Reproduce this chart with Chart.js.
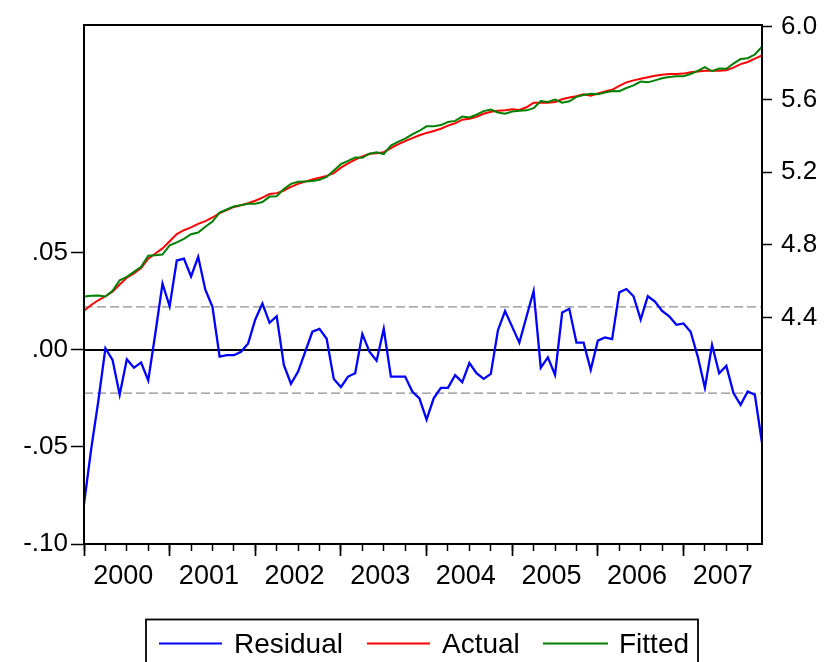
<!DOCTYPE html>
<html>
<head>
<meta charset="utf-8">
<script src="https://cdn.jsdelivr.net/npm/chart.js@4.4.1/dist/chart.umd.min.js"></script>
<style>
  html, body { margin: 0; padding: 0; background: #ffffff; }
  #wrap { width: 829px; height: 662px; }
</style>
</head>
<body>
<div id="wrap"><canvas id="chart" width="829" height="662"></canvas></div>
<script>
// Monthly observations, 2000M01 - 2007M12
const years = ['2000', '2001', '2002', '2003', '2004', '2005', '2006', '2007'];

const residual = [
  -0.0794, -0.0512, -0.0265, 0.0009, -0.0051, -0.0231, -0.0048, -0.0091, -0.0065, -0.0157,
  0.0086, 0.0342, 0.0225, 0.0461, 0.0471, 0.0379, 0.0480, 0.0311, 0.0222, -0.0034,
  -0.0027, -0.0027, -0.0009, 0.0034, 0.0157, 0.0239, 0.0140, 0.0174, -0.0077, -0.0174,
  -0.0111, -0.0009, 0.0094, 0.0109, 0.0058, -0.0150, -0.0191, -0.0137, -0.0120, 0.0082,
  -0.0009, -0.0055, 0.0109, -0.0137, -0.0137, -0.0137, -0.0214, -0.0249, -0.0359, -0.0249,
  -0.0195, -0.0195, -0.0130, -0.0166, -0.0067, -0.0120, -0.0149, -0.0123, 0.0102, 0.0201,
  0.0119, 0.0038, 0.0171, 0.0304, -0.0091, -0.0038, -0.0128, 0.0193, 0.0212, 0.0038,
  0.0038, -0.0102, 0.0048, 0.0065, 0.0056, 0.0297, 0.0314, 0.0277, 0.0157, 0.0277,
  0.0249, 0.0201, 0.0174, 0.0130, 0.0137, 0.0094, -0.0034, -0.0195, 0.0026, -0.0120,
  -0.0082, -0.0222, -0.0283, -0.0214, -0.0231, -0.0478
];

const actual = [
  4.438, 4.470, 4.496, 4.518, 4.543, 4.583, 4.620, 4.643, 4.673, 4.725,
  4.753, 4.781, 4.820, 4.860, 4.881, 4.897, 4.916, 4.931, 4.951, 4.975,
  4.992, 5.009, 5.018, 5.029, 5.043, 5.060, 5.080, 5.085, 5.099, 5.119,
  5.136, 5.148, 5.160, 5.170, 5.180, 5.195, 5.225, 5.248, 5.269, 5.287,
  5.301, 5.304, 5.310, 5.332, 5.353, 5.371, 5.387, 5.403, 5.416, 5.427,
  5.439, 5.456, 5.469, 5.489, 5.494, 5.504, 5.521, 5.532, 5.538, 5.541,
  5.546, 5.542, 5.557, 5.582, 5.582, 5.582, 5.586, 5.601, 5.611, 5.618,
  5.628, 5.621, 5.633, 5.644, 5.653, 5.675, 5.694, 5.705, 5.714, 5.722,
  5.730, 5.736, 5.740, 5.740, 5.742, 5.749, 5.754, 5.758, 5.758, 5.758,
  5.761, 5.775, 5.794, 5.806, 5.824, 5.842
];

const fitted = [
  4.517, 4.521, 4.522, 4.517, 4.548, 4.606, 4.625, 4.652, 4.680, 4.741,
  4.744, 4.747, 4.798, 4.814, 4.834, 4.859, 4.868, 4.900, 4.929, 4.978,
  4.995, 5.012, 5.019, 5.026, 5.027, 5.036, 5.066, 5.068, 5.107, 5.136,
  5.147, 5.149, 5.151, 5.159, 5.174, 5.210, 5.244, 5.262, 5.281, 5.279,
  5.302, 5.310, 5.299, 5.346, 5.367, 5.385, 5.408, 5.428, 5.452, 5.452,
  5.459, 5.476, 5.482, 5.506, 5.501, 5.516, 5.536, 5.544, 5.528, 5.521,
  5.534, 5.538, 5.540, 5.552, 5.591, 5.586, 5.599, 5.582, 5.590, 5.614,
  5.624, 5.631, 5.628, 5.638, 5.647, 5.645, 5.663, 5.677, 5.698, 5.694,
  5.705, 5.716, 5.723, 5.727, 5.728, 5.740, 5.757, 5.778, 5.755, 5.770,
  5.769, 5.797, 5.822, 5.827, 5.847, 5.890
];

// Standard error of the regression (dashed band around zero)
const residualSE = 0.0222;

// Axis tick values
const residualTicks = [-0.10, -0.05, 0.00, 0.05];
const levelTicks = [4.4, 4.8, 5.2, 5.6, 6.0];

const lastIndex = residual.length - 1;
const toPoints = arr => arr.map((y, i) => ({ x: i, y: y }));
const flat = v => [{ x: 0, y: v }, { x: lastIndex, y: v }];

const FONT = '"Liberation Sans", Arial, Helvetica, sans-serif';

const setTicks = values => scale => { scale.ticks = values.map(v => ({ value: v })); };

// Outer frame and the boxed legend below the axis
const framePlugin = {
  id: 'frameAndLegend',
  afterDraw(chart) {
    const { ctx, chartArea: a } = chart;
    ctx.save();
    ctx.strokeStyle = '#000000';
    ctx.lineWidth = 2;
    ctx.strokeRect(a.left, a.top, a.right - a.left, a.bottom - a.top);

    // legend
    ctx.lineWidth = 1.8;
    ctx.strokeRect(146, 619.5, 552, 60);
    const items = [
      { label: 'Residual', color: '#0000FF', x0: 159, x1: 222, tx: 234 },
      { label: 'Actual',   color: '#FF0000', x0: 367, x1: 430, tx: 442 },
      { label: 'Fitted',   color: '#008000', x0: 543, x1: 608, tx: 619 }
    ];
    ctx.font = '28px ' + FONT;
    ctx.textBaseline = 'alphabetic';
    ctx.textAlign = 'left';
    items.forEach(it => {
      ctx.strokeStyle = it.color;
      ctx.lineWidth = 1.8;
      ctx.beginPath();
      ctx.moveTo(it.x0, 643.5);
      ctx.lineTo(it.x1, 643.5);
      ctx.stroke();
      ctx.fillStyle = '#000000';
      ctx.fillText(it.label, it.tx, 653);
    });
    ctx.restore();
  }
};

const ctx = document.getElementById('chart').getContext('2d');
new Chart(ctx, {
  type: 'line',
  data: {
    datasets: [
      { label: 'zero', data: flat(0), yAxisID: 'y', borderColor: '#000000', borderWidth: 2, order: 10 },
      { label: 'se+', data: flat(residualSE), yAxisID: 'y', borderColor: '#8f8f8f', borderWidth: 1.2, borderDash: [9, 4], order: 11 },
      { label: 'se-', data: flat(-residualSE), yAxisID: 'y', borderColor: '#8f8f8f', borderWidth: 1.2, borderDash: [9, 4], order: 12 },
      { label: 'Residual', data: toPoints(residual), yAxisID: 'y', borderColor: '#0000FF', borderWidth: 2.3, order: 3 },
      { label: 'Actual', data: toPoints(actual), yAxisID: 'y2', borderColor: '#FF0000', borderWidth: 2, order: 2 },
      { label: 'Fitted', data: toPoints(fitted), yAxisID: 'y2', borderColor: '#008000', borderWidth: 2, order: 1 }
    ]
  },
  options: {
    responsive: false,
    animation: false,
    devicePixelRatio: 1,
    events: [],
    elements: { point: { radius: 0 }, line: { tension: 0 } },
    layout: { padding: { top: 25, left: 0, right: 0, bottom: 0 } },
    plugins: { legend: { display: false }, tooltip: { enabled: false } },
    scales: {
      // quarterly minor ticks
      x: {
        type: 'linear', position: 'bottom', min: 0, max: lastIndex,
        afterBuildTicks(scale) {
          const t = [];
          for (let m = 0; m <= lastIndex; m += 3) t.push({ value: m });
          scale.ticks = t;
        },
        afterFit(scale) { scale.height = 0; },
        ticks: { display: false },
        grid: { drawOnChartArea: false, drawTicks: true, tickLength: 7, tickWidth: 1.5, tickColor: '#000000' },
        border: { display: false }
      },
      // yearly major ticks
      xMajor: {
        type: 'linear', position: 'bottom', min: 0, max: lastIndex,
        afterBuildTicks(scale) {
          scale.ticks = years.map((y, k) => ({ value: k * 12 }));
        },
        afterFit(scale) { scale.height = 0; },
        ticks: { display: false },
        grid: { drawOnChartArea: false, drawTicks: true, tickLength: 12, tickWidth: 1.7, tickColor: '#000000' },
        border: { display: false }
      },
      // year labels centred in each year
      xYear: {
        type: 'linear', position: 'bottom', min: 0, max: lastIndex,
        afterBuildTicks(scale) {
          scale.ticks = years.map((y, k) => ({ value: k * 12 + 5.5 }));
        },
        afterFit(scale) { scale.height = 118; },
        ticks: {
          autoSkip: false, maxRotation: 0, padding: 16,
          color: '#000000', font: { family: FONT, size: 27 },
          callback: (v, i) => years[i]
        },
        grid: { display: false, drawTicks: false },
        border: { display: false }
      },
      y: {
        type: 'linear', position: 'left', min: -0.10, max: 0.1675,
        afterBuildTicks: setTicks(residualTicks),
        afterFit(scale) { scale.width = 84; },
        ticks: {
          padding: 3, color: '#000000', font: { family: FONT, size: 26 },
          callback: v => { const s = Math.abs(v).toFixed(2).replace(/^0/, ''); return (v < -1e-9 ? '-' : '') + s; }
        },
        grid: { drawOnChartArea: false, drawTicks: true, tickLength: 13, tickWidth: 1.5, tickColor: '#000000' },
        border: { display: false }
      },
      y2: {
        type: 'linear', position: 'right', min: 3.156, max: 6.0093,
        afterBuildTicks: setTicks(levelTicks),
        afterFit(scale) { scale.width = 67; },
        ticks: {
          padding: 9, color: '#000000', font: { family: FONT, size: 26 },
          callback: v => v.toFixed(1)
        },
        grid: { drawOnChartArea: false, drawTicks: true, tickLength: 10, tickWidth: 1.5, tickColor: '#000000' },
        border: { display: false }
      }
    }
  },
  plugins: [framePlugin]
});
</script>
</body>
</html>
